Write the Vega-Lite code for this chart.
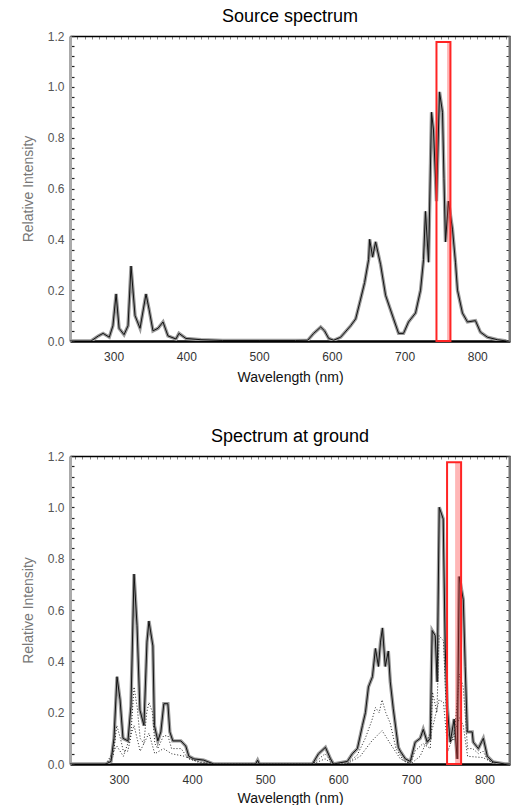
{
  "$schema": "https://vega.github.io/schema/vega-lite/v6.json",
  "background": "white",
  "padding": {"left": 21, "top": 8, "right": 0, "bottom": 0},
  "spacing": 44,
  "config": {
    "view": {"stroke": null},
    "font": "Liberation Sans",
    "title": {"fontSize": 18, "fontWeight": "normal", "color": "#000", "font": "Liberation Sans", "offset": 4},
    "axis": {"labelFont": "Liberation Sans", "titleFont": "Liberation Sans", "grid": false, "titleFontWeight": "normal"}
  },
  "datasets": {
    "src": [
      {"nm": 240, "v": 0}, {"nm": 269, "v": 0}, {"nm": 279, "v": 0.02}, {"nm": 285.5, "v": 0.03}, {"nm": 294, "v": 0.015},
      {"nm": 299, "v": 0.06}, {"nm": 303.4, "v": 0.185}, {"nm": 307.5, "v": 0.05}, {"nm": 314.3, "v": 0.025}, {"nm": 319.8, "v": 0.06},
      {"nm": 323.9, "v": 0.295}, {"nm": 329.4, "v": 0.1}, {"nm": 336.3, "v": 0.05}, {"nm": 344.5, "v": 0.185}, {"nm": 348.7, "v": 0.125},
      {"nm": 354.1, "v": 0.04}, {"nm": 361, "v": 0.05}, {"nm": 367.9, "v": 0.075}, {"nm": 374.7, "v": 0.02}, {"nm": 385.7, "v": 0.008},
      {"nm": 389.8, "v": 0.03}, {"nm": 399.4, "v": 0.01}, {"nm": 420, "v": 0.005}, {"nm": 450, "v": 0.002}, {"nm": 500, "v": 0.002},
      {"nm": 550, "v": 0.002}, {"nm": 566.9, "v": 0.003}, {"nm": 575, "v": 0.03}, {"nm": 584.7, "v": 0.055}, {"nm": 590, "v": 0.04},
      {"nm": 595.7, "v": 0.01}, {"nm": 602.6, "v": 0.003}, {"nm": 612.2, "v": 0.015}, {"nm": 625.9, "v": 0.06}, {"nm": 632.8, "v": 0.087},
      {"nm": 639.6, "v": 0.165}, {"nm": 645.1, "v": 0.23}, {"nm": 650.6, "v": 0.32}, {"nm": 652, "v": 0.4}, {"nm": 656.1, "v": 0.33},
      {"nm": 660.2, "v": 0.39}, {"nm": 667.1, "v": 0.3}, {"nm": 673.9, "v": 0.18}, {"nm": 684.9, "v": 0.087}, {"nm": 691.8, "v": 0.03},
      {"nm": 698.6, "v": 0.03}, {"nm": 705.5, "v": 0.075}, {"nm": 715.1, "v": 0.11}, {"nm": 722, "v": 0.2}, {"nm": 726.1, "v": 0.32},
      {"nm": 728.8, "v": 0.51}, {"nm": 733, "v": 0.31}, {"nm": 737.1, "v": 0.9}, {"nm": 739.8, "v": 0.83}, {"nm": 743.9, "v": 0.55},
      {"nm": 748.1, "v": 0.98}, {"nm": 752.2, "v": 0.9}, {"nm": 754.2, "v": 0.64}, {"nm": 756.3, "v": 0.39}, {"nm": 760.4, "v": 0.55},
      {"nm": 765.9, "v": 0.44}, {"nm": 770, "v": 0.31}, {"nm": 772.8, "v": 0.2}, {"nm": 779.6, "v": 0.11}, {"nm": 786.5, "v": 0.075},
      {"nm": 797.5, "v": 0.08}, {"nm": 804.3, "v": 0.035}, {"nm": 813.9, "v": 0.015}, {"nm": 827.7, "v": 0.005}, {"nm": 840, "v": 0}
    ],
    "gnd": [
      {"nm": 233, "v": 0}, {"nm": 282.3, "v": 0}, {"nm": 289.1, "v": 0.01}, {"nm": 293.2, "v": 0.1}, {"nm": 297.3, "v": 0.34},
      {"nm": 301.5, "v": 0.25}, {"nm": 305.5, "v": 0.1}, {"nm": 312.3, "v": 0.09}, {"nm": 316.4, "v": 0.225}, {"nm": 320.6, "v": 0.74},
      {"nm": 324.7, "v": 0.54}, {"nm": 328.7, "v": 0.21}, {"nm": 334.2, "v": 0.15}, {"nm": 338.3, "v": 0.475}, {"nm": 341, "v": 0.557},
      {"nm": 346.4, "v": 0.46}, {"nm": 348.5, "v": 0.15}, {"nm": 353.2, "v": 0.09}, {"nm": 357.3, "v": 0.125}, {"nm": 361.4, "v": 0.235},
      {"nm": 366.9, "v": 0.235}, {"nm": 369.6, "v": 0.125}, {"nm": 373.7, "v": 0.09}, {"nm": 384.7, "v": 0.09}, {"nm": 391.4, "v": 0.07},
      {"nm": 395.6, "v": 0.03}, {"nm": 402.4, "v": 0.02}, {"nm": 416, "v": 0.015}, {"nm": 429.7, "v": 0}, {"nm": 487, "v": 0},
      {"nm": 489.7, "v": 0.015}, {"nm": 492, "v": 0}, {"nm": 564.7, "v": 0}, {"nm": 573, "v": 0.04}, {"nm": 582.5, "v": 0.065},
      {"nm": 589.4, "v": 0.02}, {"nm": 593.6, "v": 0}, {"nm": 612.5, "v": 0.01}, {"nm": 619.3, "v": 0.04}, {"nm": 626.2, "v": 0.06},
      {"nm": 633.1, "v": 0.15}, {"nm": 637.2, "v": 0.2}, {"nm": 641.3, "v": 0.3}, {"nm": 646.8, "v": 0.34}, {"nm": 650.9, "v": 0.45},
      {"nm": 655, "v": 0.38}, {"nm": 657.8, "v": 0.475}, {"nm": 660.5, "v": 0.53}, {"nm": 664.3, "v": 0.38}, {"nm": 668.5, "v": 0.44},
      {"nm": 671.2, "v": 0.32}, {"nm": 675.3, "v": 0.215}, {"nm": 679.4, "v": 0.125}, {"nm": 682.2, "v": 0.065}, {"nm": 684.9, "v": 0.05},
      {"nm": 691.8, "v": 0.02}, {"nm": 698.6, "v": 0.01}, {"nm": 705.3, "v": 0.085}, {"nm": 712.2, "v": 0.1}, {"nm": 716.3, "v": 0.135},
      {"nm": 721.8, "v": 0.085}, {"nm": 725.9, "v": 0.1}, {"nm": 728.5, "v": 0.52}, {"nm": 732.7, "v": 0.5}, {"nm": 735.4, "v": 0.32},
      {"nm": 738.2, "v": 1.0}, {"nm": 743.6, "v": 0.955}, {"nm": 746.4, "v": 0.45}, {"nm": 749.1, "v": 0.225}, {"nm": 753.2, "v": 0.085},
      {"nm": 758.6, "v": 0.175}, {"nm": 762.8, "v": 0.02}, {"nm": 765.5, "v": 0.73}, {"nm": 771.1, "v": 0.64}, {"nm": 773.7, "v": 0.38},
      {"nm": 776.6, "v": 0.125}, {"nm": 783.3, "v": 0.125}, {"nm": 784.7, "v": 0.085}, {"nm": 791.7, "v": 0.06}, {"nm": 798.5, "v": 0.1},
      {"nm": 804, "v": 0.03}, {"nm": 811.8, "v": 0.008}, {"nm": 828, "v": 0}, {"nm": 835, "v": 0}
    ],
    "gndDot": [
      {"s": "a", "nm": 282, "v": 0}, {"s": "a", "nm": 292, "v": 0.03}, {"s": "a", "nm": 297, "v": 0.15}, {"s": "a", "nm": 302, "v": 0.1},
      {"s": "a", "nm": 306, "v": 0.05}, {"s": "a", "nm": 312, "v": 0.05}, {"s": "a", "nm": 316, "v": 0.1}, {"s": "a", "nm": 320.6, "v": 0.3},
      {"s": "a", "nm": 325, "v": 0.22}, {"s": "a", "nm": 329, "v": 0.1}, {"s": "a", "nm": 334, "v": 0.08}, {"s": "a", "nm": 338, "v": 0.2},
      {"s": "a", "nm": 341, "v": 0.24}, {"s": "a", "nm": 346, "v": 0.2}, {"s": "a", "nm": 349, "v": 0.08}, {"s": "a", "nm": 353, "v": 0.06},
      {"s": "a", "nm": 361, "v": 0.11}, {"s": "a", "nm": 367, "v": 0.11}, {"s": "a", "nm": 372, "v": 0.06}, {"s": "a", "nm": 385, "v": 0.06},
      {"s": "a", "nm": 395, "v": 0.02}, {"s": "a", "nm": 410, "v": 0.008}, {"s": "a", "nm": 430, "v": 0}, {"s": "a", "nm": 565, "v": 0},
      {"s": "a", "nm": 582, "v": 0.04}, {"s": "a", "nm": 593, "v": 0}, {"s": "a", "nm": 612, "v": 0}, {"s": "a", "nm": 626, "v": 0.035},
      {"s": "a", "nm": 637, "v": 0.1}, {"s": "a", "nm": 646, "v": 0.17}, {"s": "a", "nm": 651, "v": 0.22}, {"s": "a", "nm": 656, "v": 0.2},
      {"s": "a", "nm": 660, "v": 0.25}, {"s": "a", "nm": 665, "v": 0.2}, {"s": "a", "nm": 671, "v": 0.16}, {"s": "a", "nm": 679, "v": 0.06},
      {"s": "a", "nm": 690, "v": 0.01}, {"s": "a", "nm": 699, "v": 0.005}, {"s": "a", "nm": 705, "v": 0.05}, {"s": "a", "nm": 716, "v": 0.08},
      {"s": "a", "nm": 726, "v": 0.06}, {"s": "a", "nm": 729, "v": 0.28}, {"s": "a", "nm": 735, "v": 0.2}, {"s": "a", "nm": 738, "v": 0.5},
      {"s": "a", "nm": 744, "v": 0.48}, {"s": "a", "nm": 749, "v": 0.12}, {"s": "a", "nm": 758, "v": 0.09}, {"s": "a", "nm": 766, "v": 0.35},
      {"s": "a", "nm": 771, "v": 0.3}, {"s": "a", "nm": 777, "v": 0.06}, {"s": "a", "nm": 784, "v": 0.06}, {"s": "a", "nm": 792, "v": 0.04},
      {"s": "a", "nm": 798, "v": 0.05}, {"s": "a", "nm": 805, "v": 0.015}, {"s": "a", "nm": 815, "v": 0},
      {"s": "b", "nm": 282, "v": 0}, {"s": "b", "nm": 297, "v": 0.07}, {"s": "b", "nm": 306, "v": 0.03}, {"s": "b", "nm": 320.6, "v": 0.15},
      {"s": "b", "nm": 329, "v": 0.05}, {"s": "b", "nm": 341, "v": 0.12}, {"s": "b", "nm": 349, "v": 0.04}, {"s": "b", "nm": 361, "v": 0.06},
      {"s": "b", "nm": 372, "v": 0.04}, {"s": "b", "nm": 390, "v": 0.03}, {"s": "b", "nm": 410, "v": 0.005}, {"s": "b", "nm": 430, "v": 0},
      {"s": "b", "nm": 565, "v": 0}, {"s": "b", "nm": 582, "v": 0.02}, {"s": "b", "nm": 593, "v": 0}, {"s": "b", "nm": 612, "v": 0},
      {"s": "b", "nm": 630, "v": 0.03}, {"s": "b", "nm": 646, "v": 0.09}, {"s": "b", "nm": 660, "v": 0.13}, {"s": "b", "nm": 671, "v": 0.08},
      {"s": "b", "nm": 685, "v": 0.02}, {"s": "b", "nm": 699, "v": 0}, {"s": "b", "nm": 712, "v": 0.03}, {"s": "b", "nm": 729, "v": 0.14},
      {"s": "b", "nm": 738, "v": 0.25}, {"s": "b", "nm": 744, "v": 0.24}, {"s": "b", "nm": 750, "v": 0.05}, {"s": "b", "nm": 766, "v": 0.18},
      {"s": "b", "nm": 771, "v": 0.15}, {"s": "b", "nm": 777, "v": 0.03}, {"s": "b", "nm": 798, "v": 0.025}, {"s": "b", "nm": 815, "v": 0}
    ],
    "boxTop": [{"x1": 743.9, "x2": 763.1, "y1": 0, "y2": 1.176}],
    "stripTop": [{"x1": 758.5, "x2": 763.1, "y1": 0, "y2": 1.176}],
    "boxBot": [{"x1": 748.9, "x2": 768.1, "y1": 0, "y2": 1.176}],
    "stripBot": [{"x1": 759.9, "x2": 768.1, "y1": 0, "y2": 1.176}]
  },
  "vconcat": [
    {
      "title": {"text": "Source spectrum"},
      "width": 440,
      "height": 305,
      "resolve": {"axis": {"x": "independent", "y": "independent"}},
      "layer": [
        {
          "data": {"name": "src"},
          "mark": {"type": "line", "color": "#9a9a9a", "strokeWidth": 3.4, "clip": true},
          "encoding": {
            "x": {"field": "nm", "type": "quantitative", "scale": {"domain": [240, 845], "nice": false, "zero": false},
              "axis": {"orient": "bottom", "title": "Wavelength (nm)", "values": [300, 400, 500, 600, 700, 800], "ticks": false,
                "domainColor": "#000", "domainWidth": 2.5, "labelFontSize": 12, "labelColor": "#333", "labelPadding": 10,
                "titleFontSize": 14, "titleColor": "#111", "titlePadding": 8}},
            "y": {"field": "v", "type": "quantitative", "scale": {"domain": [0, 1.2], "nice": false},
              "axis": {"orient": "left", "title": "Relative Intensity",
                "values": [0, 0.04, 0.08, 0.12, 0.16, 0.2, 0.24, 0.28, 0.32, 0.36, 0.4, 0.44, 0.48, 0.52, 0.56, 0.6, 0.64, 0.68, 0.72, 0.76, 0.8, 0.84, 0.88, 0.92, 0.96, 1.0, 1.04, 1.08, 1.12, 1.16, 1.2],
                "labelExpr": "abs(datum.value*5 - round(datum.value*5)) < 0.001 ? format(datum.value, '.1f') : ''",
                "tickSize": -4, "tickColor": "#222", "tickWidth": 1.2,
                "domainColor": "#aaaaaa", "domainWidth": 3, "labelFontSize": 12, "labelColor": "#555", "labelPadding": 10,
                "titleFontSize": 14, "titleColor": "#777", "titlePadding": 12}}
          }
        },
        {
          "data": {"name": "src"},
          "mark": {"type": "line", "color": "#111", "strokeWidth": 1, "clip": true},
          "encoding": {
            "x": {"field": "nm", "type": "quantitative", "scale": {"domain": [240, 845], "nice": false, "zero": false},
              "axis": {"orient": "top", "title": null, "labels": false, "tickCount": 60, "tickSize": -3, "tickColor": "#888",
                "domainColor": "#000", "domainWidth": 1.5}},
            "y": {"field": "v", "type": "quantitative", "scale": {"domain": [0, 1.2], "nice": false},
              "axis": {"orient": "right", "title": null, "labels": false,
                "values": [0, 0.04, 0.08, 0.12, 0.16, 0.2, 0.24, 0.28, 0.32, 0.36, 0.4, 0.44, 0.48, 0.52, 0.56, 0.6, 0.64, 0.68, 0.72, 0.76, 0.8, 0.84, 0.88, 0.92, 0.96, 1.0, 1.04, 1.08, 1.12, 1.16, 1.2],
                "tickSize": -4, "tickColor": "#333", "domainColor": "#777", "domainWidth": 4}}
          }
        },
        {
          "data": {"name": "stripTop"},
          "mark": {"type": "rect", "fill": "#ff3030", "fillOpacity": 0.35},
          "encoding": {
            "x": {"field": "x1", "type": "quantitative", "axis": null},
            "x2": {"field": "x2"},
            "y": {"field": "y1", "type": "quantitative", "axis": null},
            "y2": {"field": "y2"}
          }
        },
        {
          "data": {"name": "boxTop"},
          "mark": {"type": "rect", "fill": null, "fillOpacity": 0, "stroke": "#ff2424", "strokeWidth": 2},
          "encoding": {
            "x": {"field": "x1", "type": "quantitative", "axis": null},
            "x2": {"field": "x2"},
            "y": {"field": "y1", "type": "quantitative", "axis": null},
            "y2": {"field": "y2"}
          }
        }
      ]
    },
    {
      "title": {"text": "Spectrum at ground"},
      "width": 440,
      "height": 308,
      "resolve": {"axis": {"x": "independent", "y": "independent"}},
      "layer": [
        {
          "data": {"name": "gnd"},
          "mark": {"type": "line", "color": "#9a9a9a", "strokeWidth": 3.4, "clip": true},
          "encoding": {
            "x": {"field": "nm", "type": "quantitative", "scale": {"domain": [233, 835], "nice": false, "zero": false},
              "axis": {"orient": "bottom", "title": "Wavelength (nm)", "values": [300, 400, 500, 600, 700, 800], "ticks": false,
                "domainColor": "#000", "domainWidth": 2.5, "labelFontSize": 12, "labelColor": "#333", "labelPadding": 10,
                "titleFontSize": 14, "titleColor": "#111", "titlePadding": 6}},
            "y": {"field": "v", "type": "quantitative", "scale": {"domain": [0, 1.2], "nice": false},
              "axis": {"orient": "left", "title": "Relative Intensity",
                "values": [0, 0.04, 0.08, 0.12, 0.16, 0.2, 0.24, 0.28, 0.32, 0.36, 0.4, 0.44, 0.48, 0.52, 0.56, 0.6, 0.64, 0.68, 0.72, 0.76, 0.8, 0.84, 0.88, 0.92, 0.96, 1.0, 1.04, 1.08, 1.12, 1.16, 1.2],
                "labelExpr": "abs(datum.value*5 - round(datum.value*5)) < 0.001 ? format(datum.value, '.1f') : ''",
                "tickSize": -4, "tickColor": "#222", "tickWidth": 1.2,
                "domainColor": "#aaaaaa", "domainWidth": 3, "labelFontSize": 12, "labelColor": "#555", "labelPadding": 10,
                "titleFontSize": 14, "titleColor": "#777", "titlePadding": 12}}
          }
        },
        {
          "data": {"name": "gnd"},
          "mark": {"type": "line", "color": "#111", "strokeWidth": 1, "clip": true},
          "encoding": {
            "x": {"field": "nm", "type": "quantitative", "scale": {"domain": [233, 835], "nice": false, "zero": false},
              "axis": {"orient": "top", "title": null, "labels": false, "tickCount": 60, "tickSize": -3, "tickColor": "#888",
                "domainColor": "#000", "domainWidth": 1.5}},
            "y": {"field": "v", "type": "quantitative", "scale": {"domain": [0, 1.2], "nice": false},
              "axis": {"orient": "right", "title": null, "labels": false,
                "values": [0, 0.04, 0.08, 0.12, 0.16, 0.2, 0.24, 0.28, 0.32, 0.36, 0.4, 0.44, 0.48, 0.52, 0.56, 0.6, 0.64, 0.68, 0.72, 0.76, 0.8, 0.84, 0.88, 0.92, 0.96, 1.0, 1.04, 1.08, 1.12, 1.16, 1.2],
                "tickSize": -4, "tickColor": "#333", "domainColor": "#777", "domainWidth": 4}}
          }
        },
        {
          "data": {"name": "gndDot"},
          "mark": {"type": "line", "color": "#222", "strokeWidth": 1, "strokeDash": [1, 2], "clip": true},
          "encoding": {
            "x": {"field": "nm", "type": "quantitative", "axis": null},
            "y": {"field": "v", "type": "quantitative", "axis": null},
            "detail": {"field": "s", "type": "nominal"}
          }
        },
        {
          "data": {"name": "stripBot"},
          "mark": {"type": "rect", "fill": "#ff3030", "fillOpacity": 0.35},
          "encoding": {
            "x": {"field": "x1", "type": "quantitative", "axis": null},
            "x2": {"field": "x2"},
            "y": {"field": "y1", "type": "quantitative", "axis": null},
            "y2": {"field": "y2"}
          }
        },
        {
          "data": {"name": "boxBot"},
          "mark": {"type": "rect", "fill": null, "fillOpacity": 0, "stroke": "#ff2424", "strokeWidth": 2},
          "encoding": {
            "x": {"field": "x1", "type": "quantitative", "axis": null},
            "x2": {"field": "x2"},
            "y": {"field": "y1", "type": "quantitative", "axis": null},
            "y2": {"field": "y2"}
          }
        }
      ]
    }
  ]
}
